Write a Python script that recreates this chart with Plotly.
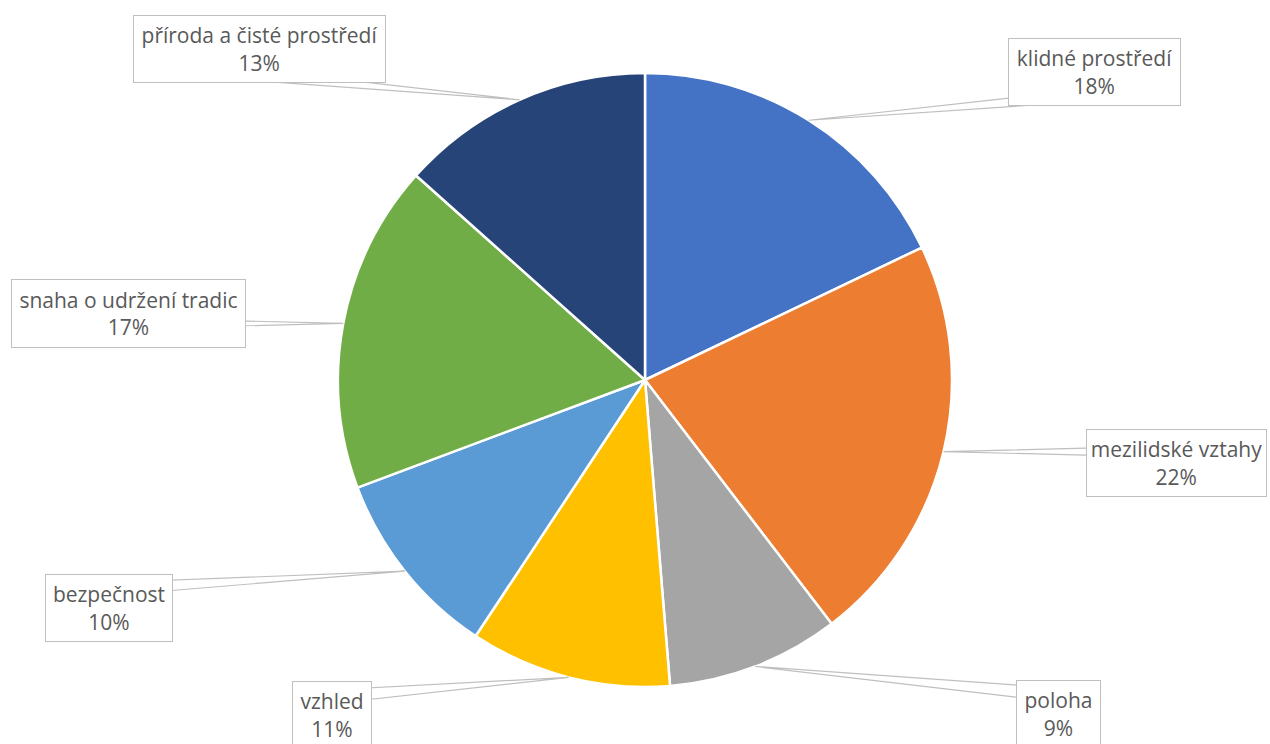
import math
import plotly.graph_objects as go

# ---- data ----
categories = ["klidné prostředí", "mezilidské vztahy", "poloha", "vzhled",
              "bezpečnost", "snaha o udržení tradic", "příroda a čisté prostředí"]
shares = [17.9, 21.7, 9.1, 10.6, 10.0, 17.3, 13.4]
colors = ["#4472C4", "#ED7D31", "#A5A5A5", "#FFC000", "#5B9BD5", "#70AD47", "#264478"]

# ---- layout (pixels) ----
W, H = 1270, 744
CX, CY, R = 645, 380, 307
# label boxes: (left, top, right, bottom) in pixels
boxes = [
    (1008, 38, 1181, 106),
    (1086, 429, 1267, 497),
    (1016, 680, 1101, 748),
    (292, 681, 372, 749),
    (45, 574, 173, 642),
    (11, 279, 246, 348),
    (133, 15, 386, 83),
]

def px(x):
    return x / W

def py(y):
    return 1 - y / H

fig = go.Figure(go.Pie(
    labels=categories, values=shares, sort=False, direction="clockwise",
    rotation=0, textinfo="none", hoverinfo="label+percent",
    marker=dict(colors=colors, line=dict(color="white", width=2.5)),
    domain=dict(x=[px(CX - R), px(CX + R)], y=[py(CY + R), py(CY - R)]),
    showlegend=False,
))

total = sum(shares)
cum = 0.0
annotations = []
shapes = []
for cat, v, (l, t, r, b) in zip(categories, shares, boxes):
    mid = (cum + v / 2) / total * 2 * math.pi
    cum += v
    ax = CX + R * math.sin(mid)
    ay = CY - R * math.cos(mid)
    pct = round(v / total * 100)
    annotations.append(dict(
        x=px((l + r) / 2), y=py((t + b) / 2), xref="paper", yref="paper",
        xanchor="center", yanchor="middle", showarrow=False,
        text=f"{cat}<br>{pct}%", align="center", valign="middle",
        width=r - l - 2, height=b - t - 2, borderpad=0, borderwidth=1,
        bordercolor="#BFBFBF", bgcolor="white",
        font=dict(family="Open Sans", size=21, color="#595959"),
    ))
    # callout wedge
    side = l if ax > r else r
    ymid = min(max(ay, t + 19), b - 19)
    y1, y2 = ymid - 8, ymid + 8
    path = (f"M {px(side)} {py(y1)} L {px(ax)} {py(ay)} L {px(side)} {py(y2)}")
    shapes.append(dict(type="path", path=path, xref="paper", yref="paper",
                       line=dict(color="#BFBFBF", width=1.2)))

fig.update_layout(
    width=W, height=H, margin=dict(l=0, r=0, t=0, b=0),
    paper_bgcolor="white", plot_bgcolor="white",
    annotations=annotations, shapes=shapes,
)
fig.write_html("out.html", config={"displayModeBar": False},
               post_script="document.body.style.margin='0';document.body.style.overflow='hidden';")
